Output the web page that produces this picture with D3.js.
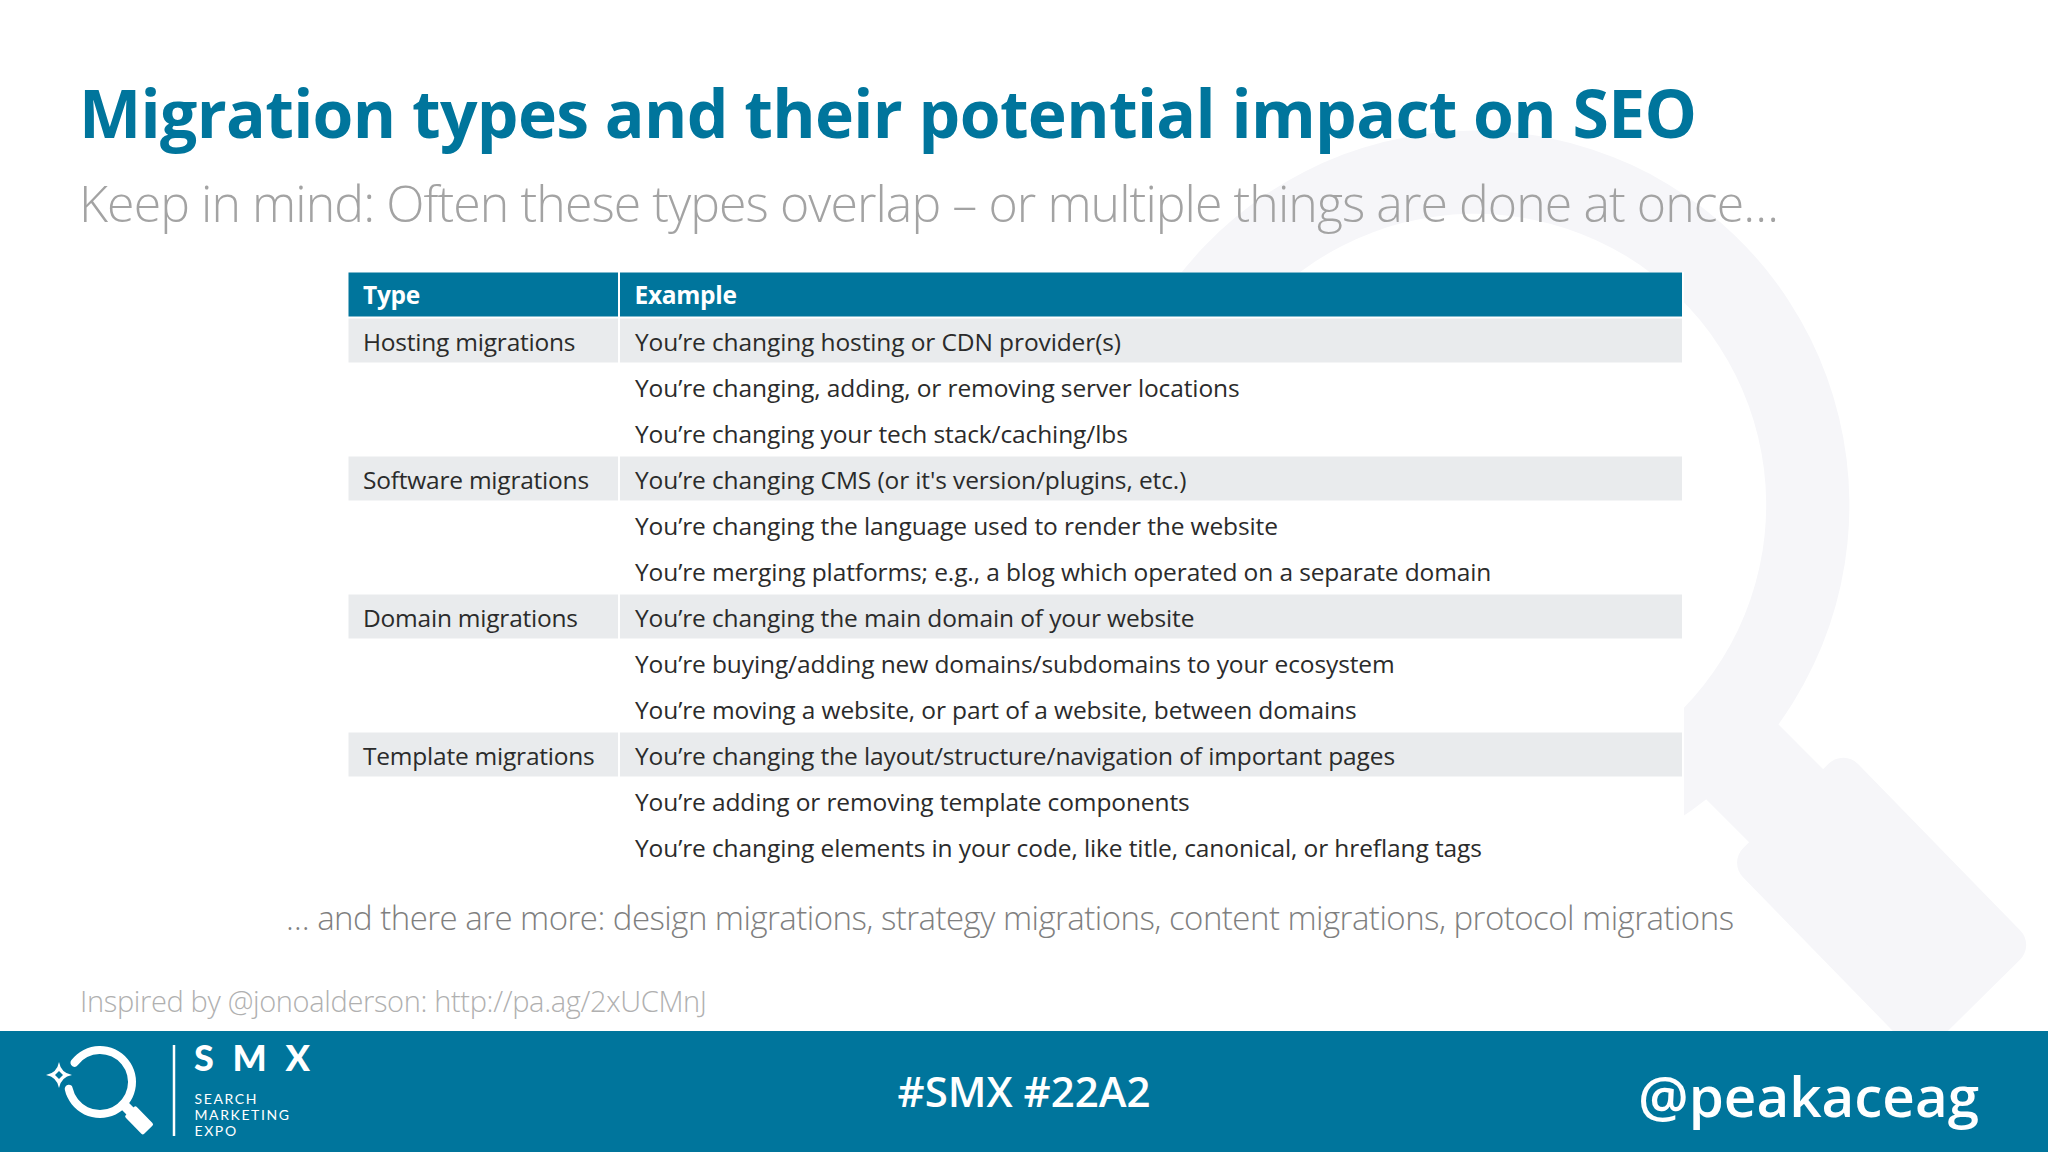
<!DOCTYPE html>
<html>
<head>
<meta charset="utf-8">
<title>Migration types</title>
<script src="https://cdn.jsdelivr.net/npm/d3@7"></script>
<style>
  html, body { margin: 0; padding: 0; background: #fff; }
  svg { display: block; }
  text { font-family: "Open Sans", "Noto Sans", sans-serif; }
</style>
</head>
<body>
<script>
var headers = ["Type", "Example"];
var types = ["Hosting migrations", "", "", "Software migrations", "", "", "Domain migrations", "", "", "Template migrations", "", ""];
var examples = [
  "You’re changing hosting or CDN provider(s)",
  "You’re changing, adding, or removing server locations",
  "You’re changing your tech stack/caching/lbs",
  "You’re changing CMS (or it's version/plugins, etc.)",
  "You’re changing the language used to render the website",
  "You’re merging platforms; e.g., a blog which operated on a separate domain",
  "You’re changing the main domain of your website",
  "You’re buying/adding new domains/subdomains to your ecosystem",
  "You’re moving a website, or part of a website, between domains",
  "You’re changing the layout/structure/navigation of important pages",
  "You’re adding or removing template components",
  "You’re changing elements in your code, like title, canonical, or hreflang tags"
];
var title = "Migration types and their potential impact on SEO";
var subtitle = "Keep in mind: Often these types overlap – or multiple things are done at once…";
var note = "… and there are more: design migrations, strategy migrations, content migrations, protocol migrations";
var source = "Inspired by @jonoalderson: http://pa.ag/2xUCMnJ";
var logoLines = ["SEARCH", "MARKETING", "EXPO"];

var teal = "#00759c";
var width = 2048, height = 1152;

var svg = d3.select("body").append("svg").attr("width", width).attr("height", height);

// magnifier from the SMX logo, unit = footer logo pixel, origin = ring centre
function magnifier(g, colour) {
  var arc = d3.arc().innerRadius(28).outerRadius(36)
    .startAngle(-1.05).endAngle(Math.PI * 2 - 1.66).cornerRadius(4);
  g.append("path").attr("d", arc()).attr("fill", colour);
  g.append("line").attr("x1", 22).attr("y1", 21).attr("x2", 32).attr("y2", 31)
    .attr("stroke", colour).attr("stroke-width", 10);
  g.append("path").attr("d", "M35.4,26.3 L51,42.3 L42.8,50.4 L27.2,34.4 Z")
    .attr("fill", colour).attr("stroke", colour).attr("stroke-width", 4).attr("stroke-linejoin", "round");
}

magnifier(svg.append("g").attr("transform", "translate(1475,505) scale(10.4)"), "#f6f6f9");

// slide heading
svg.append("text").attr("x", 79).attr("y", 138).attr("font-size", 66).attr("font-weight", 700)
  .attr("fill", teal).attr("textLength", 1618).attr("lengthAdjust", "spacing").text(title);
svg.append("text").attr("x", 79).attr("y", 222).attr("font-size", 50).attr("font-weight", 300)
  .attr("fill", "#a3a3a3").attr("textLength", 1700).attr("lengthAdjust", "spacing").text(subtitle);

// table
var rows = d3.range(examples.length);
var y = d3.scaleBand().domain(rows).range([318.5, 870.5]);
var colX = [348.5, 620], colW = [269.5, 1062];

// the table sits on a white panel that hides the watermark
svg.append("rect").attr("x", 348).attr("y", 272).attr("width", 1336).attr("height", 620).attr("fill", "#fff");

svg.selectAll("rect.head").data(headers).enter().append("rect").attr("class", "head")
  .attr("x", function(d, i) { return colX[i]; }).attr("y", 272.5)
  .attr("width", function(d, i) { return colW[i]; }).attr("height", 44).attr("fill", teal);
svg.selectAll("text.head").data(headers).enter().append("text").attr("class", "head")
  .attr("x", function(d, i) { return colX[i] + 14.5; }).attr("y", 304)
  .attr("font-size", 24.5).attr("font-weight", 700).attr("letter-spacing", -0.3).attr("fill", "#fff").text(function(d) { return d; });

var striped = rows.filter(function(i) { return types[i] !== ""; });
headers.forEach(function(h, c) {
  svg.selectAll("rect.stripe" + c).data(striped).enter().append("rect").attr("class", "stripe" + c)
    .attr("x", colX[c]).attr("y", function(i) { return y(i); })
    .attr("width", colW[c]).attr("height", y.bandwidth() - 2).attr("fill", "#e9ebed");
});

svg.selectAll("text.type").data(striped).enter().append("text").attr("class", "type")
  .attr("x", colX[0] + 14.5).attr("y", function(i) { return y(i) + 32; })
  .attr("font-size", 24.5).attr("letter-spacing", -0.22).attr("fill", "#2b2b2b").text(function(i) { return types[i]; });
svg.selectAll("text.example").data(rows).enter().append("text").attr("class", "example")
  .attr("x", colX[1] + 15).attr("y", function(i) { return y(i) + 32; })
  .attr("font-size", 24.5).attr("letter-spacing", -0.11).attr("fill", "#2b2b2b").text(function(i) { return examples[i]; });

svg.append("text").attr("x", 286).attr("y", 930).attr("font-size", 33).attr("font-weight", 300)
  .attr("fill", "#7f7f7f").attr("textLength", 1448).attr("lengthAdjust", "spacing").text(note);
svg.append("text").attr("x", 80).attr("y", 1012).attr("font-size", 29).attr("font-weight", 300)
  .attr("fill", "#b0b0b0").attr("textLength", 627).attr("lengthAdjust", "spacing").text(source);

// footer band
svg.append("rect").attr("x", 0).attr("y", 1031).attr("width", width).attr("height", 121).attr("fill", teal);

var logo = svg.append("g").attr("transform", "translate(100,1082)");
magnifier(logo, "#fff");
logo.append("path").attr("transform", "translate(-41,-7)").attr("fill-rule", "evenodd").attr("fill", "#fff")
  .attr("d", "M0,-13 Q2,-2 13,0 Q2,2 0,13 Q-2,2 -13,0 Q-2,-2 0,-13 Z M0,-4 L-4,0 L0,4 L4,0 Z");

svg.append("line").attr("x1", 174).attr("x2", 174).attr("y1", 1045).attr("y2", 1136)
  .attr("stroke", "#fff").attr("stroke-width", 2.5);
svg.append("text").attr("x", 194).attr("y", 1071).attr("font-size", 36).attr("font-weight", 900)
  .attr("fill", "#fff").style("font-family", "Lato").attr("textLength", 116).attr("lengthAdjust", "spacing").text("SMX");
svg.selectAll("text.logoline").data(logoLines).enter().append("text").attr("class", "logoline")
  .attr("x", 194.5).attr("y", function(d, i) { return 1104 + i * 16; })
  .attr("font-size", 14).attr("letter-spacing", 1.6).attr("fill", "#fff").style("font-family", "Lato").text(function(d) { return d; });

svg.append("text").attr("x", 1024).attr("y", 1107).attr("text-anchor", "middle").attr("font-size", 42)
  .attr("font-weight", 600).attr("fill", "#fff").text("#SMX #22A2");
svg.append("text").attr("x", 1979).attr("y", 1117).attr("text-anchor", "end").attr("font-size", 56.5)
  .attr("font-weight", 600).attr("fill", "#fff").text("@peakaceag");
</script>
</body>
</html>
